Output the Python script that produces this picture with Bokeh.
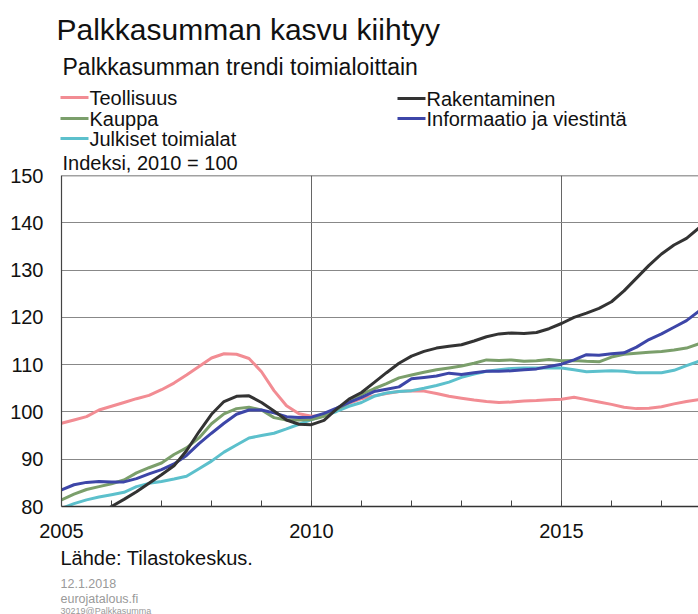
from bokeh.plotting import figure
from bokeh.layouts import column
from bokeh.models import Label, FixedTicker, Range1d, Span
from bokeh.core.properties import value
from bokeh.embed import file_html
from bokeh.resources import INLINE

# ---- data (index 2010 = 100), quarterly readings ----
quarters = [2005 + 0.25 * i for i in range(52)]

teollisuus = [97.6, 98.3, 99.0, 100.4, 101.2, 102.0, 102.8, 103.5, 104.7, 106.1, 107.8, 109.6,
              111.4, 112.3, 112.2, 111.3, 108.5, 104.5, 101.3, 99.6, 99.1, 99.3, 100.5, 101.8,
              102.8, 103.4, 103.9, 104.3, 104.5, 104.4, 103.9, 103.3, 102.9, 102.5, 102.2, 102.0,
              102.1, 102.3, 102.4, 102.6, 102.7, 103.1, 102.6, 102.1, 101.6, 101.0, 100.7, 100.8,
              101.1, 101.7, 102.2, 102.6]

rak_quarters = quarters[3:]
rakentaminen = [78.5, 80.0, 81.5, 83.1, 84.9, 86.7, 88.6, 91.8, 95.8,
                99.5, 102.2, 103.3, 103.4, 102.0, 100.2, 98.3, 97.4, 97.3, 98.2, 100.6, 102.7,
                104.1, 106.2, 108.3, 110.3, 111.8, 112.8, 113.5, 113.9, 114.2, 115.0, 115.9, 116.5,
                116.7, 116.6, 116.8, 117.6, 118.7, 120.0, 120.9, 121.9, 123.3, 125.6, 128.3, 131.0,
                133.4, 135.3, 136.7, 138.9]

kauppa = [81.4, 82.6, 83.6, 84.2, 84.8, 85.6, 87.1, 88.2, 89.2, 91.0, 92.4, 94.5,
          97.5, 99.6, 100.7, 101.0, 100.4, 98.8, 98.3, 98.3, 98.4, 99.1, 100.5, 102.0,
          103.7, 104.9, 106.0, 107.2, 107.8, 108.4, 108.9, 109.3, 109.7, 110.3, 111.0, 110.9,
          111.0, 110.7, 110.8, 111.1, 110.8, 110.9, 110.7, 110.6, 111.6, 112.2, 112.4, 112.6,
          112.8, 113.1, 113.5, 114.4]

informaatio = [83.5, 84.6, 85.1, 85.3, 85.2, 85.2, 85.9, 86.9, 87.8, 89.0, 90.8, 93.3,
               95.5, 97.6, 99.5, 100.4, 100.4, 99.8, 99.0, 98.8, 98.9, 99.7, 100.8, 102.0,
               103.1, 104.3, 104.8, 105.3, 107.0, 107.3, 107.6, 108.2, 107.9, 108.3, 108.6, 108.6,
               108.7, 108.9, 109.1, 109.6, 110.1, 111.0, 112.1, 112.0, 112.3, 112.5, 113.7, 115.3,
               116.5, 117.9, 119.3, 121.3]

julkiset = [79.6, 80.6, 81.4, 82.0, 82.5, 83.0, 84.2, 84.9, 85.3, 85.8, 86.4, 88.0,
            89.6, 91.5, 93.0, 94.5, 95.0, 95.5, 96.4, 97.4, 98.4, 99.2, 100.1, 101.2,
            102.0, 103.3, 104.0, 104.3, 104.5, 105.0, 105.6, 106.3, 107.3, 108.0, 108.6, 108.9,
            109.2, 109.3, 109.3, 109.3, 109.3, 108.9, 108.5, 108.6, 108.7, 108.6, 108.3, 108.3,
            108.3, 108.8, 109.8, 110.7]

series_names = ["Teollisuus", "Rakentaminen", "Kauppa", "Informaatio ja viestintä", "Julkiset toimialat"]
y_ticks = [80, 90, 100, 110, 120, 130, 140, 150]
x_major = [2005, 2010, 2015]
x_minor = list(range(2005, 2018))

title_text = "Palkkasumman kasvu kiihtyy"
subtitle_text = "Palkkasumman trendi toimialoittain"
unit_text = "Indeksi, 2010 = 100"
source_text = "Lähde: Tilastokeskus."
date_text = "12.1.2018"
site_text = "eurojatalous.fi"
code_text = "30219@Palkkasumma"

colors = {
    "Teollisuus": "#F28C93",
    "Rakentaminen": "#333333",
    "Kauppa": "#7B9F6B",
    "Informaatio ja viestintä": "#3D46A8",
    "Julkiset toimialat": "#5CC0CC",
}

FONT = "Liberation Sans"
W = 698
HEAD_H = 150          # header canvas: page y 0..150
FT, FB = 175, 506     # plot frame top / bottom (page y)
FL = 61               # plot frame left (page x)
FOOT_TOP = 548        # footer canvas starts here
PAGE_H = 614


def blank(height, y0, y1):
    f = figure(width=W, height=height, output_backend="svg", toolbar_location=None,
               x_range=Range1d(0, W), y_range=Range1d(y1, y0),
               x_axis_location=None, y_axis_location=None, frame_align=False,
               min_border_left=0, min_border_right=0, min_border_top=0, min_border_bottom=0)
    f.grid.visible = False
    f.outline_line_color = None
    f.background_fill_color = "white"
    f.border_fill_color = "white"
    return f


def put(f, text, x, y, size, color="#111111"):
    f.text(x=[x], y=[y], text=[text], text_font=value(FONT), text_font_size=value(f"{size}px"),
           text_color=color, text_baseline="middle", text_align="left")


# ---------- header ----------
head = blank(HEAD_H, 0, HEAD_H)
put(head, title_text, 56, 29, 30)
put(head, subtitle_text, 62, 66, 23)
legend_pos = [(60, 97), (397, 98), (60, 118), (397, 118), (60, 138)]
legend_order = ["Teollisuus", "Rakentaminen", "Kauppa", "Informaatio ja viestintä", "Julkiset toimialat"]
for name, (lx, ly) in zip(legend_order, legend_pos):
    head.segment(x0=[lx], y0=[ly], x1=[lx + 28], y1=[ly], line_color=colors[name], line_width=3)
    put(head, name, lx + 29, ly, 20)

# ---------- main plot ----------
p = figure(width=W, height=FOOT_TOP - HEAD_H, output_backend="svg", toolbar_location=None,
           x_range=Range1d(2005, 2005 + (W - FL) / 50), y_range=Range1d(80, 150),
           frame_align=False,
           min_border_left=FL, min_border_right=0,
           min_border_top=FT - HEAD_H, min_border_bottom=FOOT_TOP - FB)
p.outline_line_color = None
p.background_fill_color = "white"
p.border_fill_color = "white"

p.xaxis.ticker = FixedTicker(ticks=x_major, minor_ticks=x_minor)
p.xaxis.major_label_text_align = "left"
p.xaxis.major_label_text_font = FONT
p.xaxis.major_label_text_font_size = "20px"
p.xaxis.major_label_text_color = "#111111"
p.xaxis.major_label_standoff = 17
p.xaxis.major_tick_in = 0
p.xaxis.major_tick_out = 0
p.xaxis.minor_tick_in = 6
p.xaxis.minor_tick_out = 0
p.xaxis.minor_tick_line_color = "#444444"
p.xaxis.axis_line_color = "#333333"
p.xaxis.axis_line_width = 1.5

p.yaxis.ticker = FixedTicker(ticks=y_ticks)
p.yaxis.major_label_text_font = FONT
p.yaxis.major_label_text_font_size = "20px"
p.yaxis.major_label_text_color = "#111111"
p.yaxis.major_label_standoff = 18
p.yaxis.major_tick_in = 0
p.yaxis.major_tick_out = 0
p.yaxis.minor_tick_line_color = None
p.yaxis.axis_line_color = "#444444"
p.yaxis.axis_line_width = 1.2

p.xgrid.ticker = FixedTicker(ticks=[2010, 2015])
p.xgrid.grid_line_color = "#666666"
p.xgrid.grid_line_width = 1
p.ygrid.ticker = FixedTicker(ticks=y_ticks)
p.ygrid.grid_line_color = "#888888"
p.ygrid.grid_line_width = 1.2

p.add_layout(Span(location=150, dimension="width", line_color="#444444", line_width=1.5))

p.line(quarters, teollisuus, line_color=colors["Teollisuus"], line_width=3)
p.line(quarters, julkiset, line_color=colors["Julkiset toimialat"], line_width=3)
p.line(quarters, kauppa, line_color=colors["Kauppa"], line_width=3)
p.line(quarters, informaatio, line_color=colors["Informaatio ja viestintä"], line_width=3)
p.line(rak_quarters, rakentaminen, line_color=colors["Rakentaminen"], line_width=3)

# unit label just above the frame (side panel label, frame-relative screen units)
p.add_layout(Label(x=62 - FL, y=FT - 162, x_units="screen", y_units="screen", text=unit_text,
                   text_font=FONT, text_font_size="20px", text_color="#111111",
                   text_baseline="middle", text_align="left"), "above")

# ---------- footer ----------
foot = blank(PAGE_H - FOOT_TOP, FOOT_TOP, PAGE_H)
put(foot, source_text, 60, 557, 20)
put(foot, date_text, 60, 583, 12.5, "#999999")
put(foot, site_text, 60, 598, 12.5, "#999999")
put(foot, code_text, 60, 610, 9, "#999999")

layout = column(head, p, foot, spacing=0)
open("out.html", "w").write(file_html(layout, INLINE))
